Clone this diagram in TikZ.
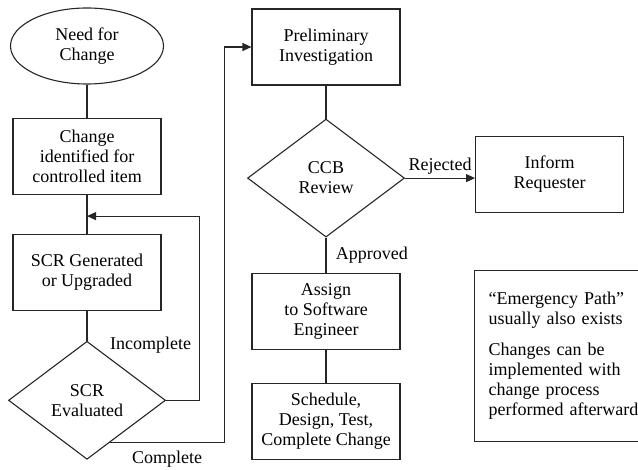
\documentclass[tikz,border=0pt]{standalone}
\usepackage{fontspec}
\setmainfont{Liberation Serif}
\usetikzlibrary{arrows.meta,positioning,shapes.geometric}

\begin{document}
\begin{tikzpicture}[x=1pt, y=-1pt, line width=1.1pt, draw=black!85,
    every node/.style={font=\rmfamily\fontsize{18}{20}\selectfont, align=center},
    box/.style={rectangle, draw=black!85, minimum width=148pt, minimum height=76pt, inner sep=2pt},
    decision/.style={diamond, draw=black!85, minimum width=157pt, minimum height=118pt, inner sep=0pt},
    startnode/.style={ellipse, draw=black!85, minimum width=153pt, minimum height=76pt, inner sep=0pt},
    arrow/.style={-{Triangle[length=9pt, width=8pt]}}]
    \useasboundingbox (0,0) rectangle (638,470);

    % left column
    \node[startnode] (need) at (87,46) {Need for\\Change};
    \node[box, below=33pt of need] (ident) {Change\\identified for\\controlled item};
    \node[box, below=39pt of ident] (gen) {SCR Generated\\or Upgraded};
    \node[decision, below=30pt of gen] (eval) {SCR\\Evaluated};

    % middle column
    \node[box] (prelim) at (326,47) {Preliminary\\Investigation};
    \node[decision, below=33pt of prelim] (ccb) {CCB\\Review};
    \node[box, below=35pt of ccb] (assign) {Assign\\to Software\\Engineer};
    \node[box, below=33pt of assign] (sched) {Schedule,\\Design, Test,\\Complete Change};

    % right column
    \node[box, right=70pt of ccb, yshift=4pt] (inform) {Inform\\Requester};
    \node[draw=black!85, anchor=north west, align=left, text width=150pt,
          minimum height=171pt, inner xsep=14pt] (note) at (474,270)
        {``Emergency Path''\\usually also exists\\[11pt]Changes can be\\implemented with\\change process\\performed afterward};

    \path (ident.south) -- coordinate[pos=.55] (back) (gen.north);

    \draw (need) -- (ident);
    \draw (ident) -- (gen);
    \draw (gen) -- (eval);
    \draw[arrow] (eval.east) -- ++(33,0) |- node[pos=.15, left=4pt] {Incomplete} (back);
    \draw[arrow] (eval.-62) -- node[below=4pt] {Complete} ++(115,0) |- (prelim.west);

    \draw (prelim) -- (ccb);
    \draw[arrow] (ccb.east) -- node[above] {Rejected} (ccb.east -| inform.west);
    \draw (ccb) -- node[right=6pt] {Approved} (assign);
    \draw (assign) -- (sched);
\end{tikzpicture}
\end{document}
